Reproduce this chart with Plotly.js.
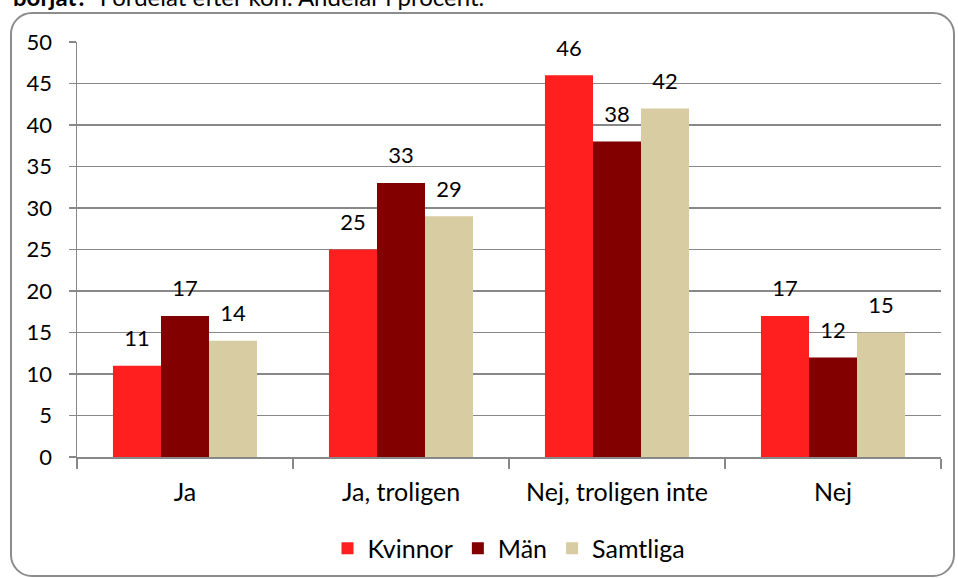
<!DOCTYPE html>
<html>
<head>
<meta charset="utf-8">
<script src="https://cdn.plot.ly/plotly-3.0.1.min.js"></script>
<style>
  html, body { margin:0; padding:0; background:#fff; }
  #wrap { position:relative; width:958px; height:578px; overflow:hidden; }
  #frame { position:absolute; left:10px; top:12px; width:945px; height:565px; border:2px solid #8c8c8c; border-radius:22px; box-sizing:border-box; }
  #chart { position:absolute; left:0; top:0; width:958px; height:578px; }
</style>
</head>
<body>
<div id="wrap">
  <div id="frame"></div>
  <div id="chart"></div>
</div>
<script>
const categories = ["Ja", "Ja, troligen", "Nej, troligen inte", "Nej"];
const seriesNames = ["Kvinnor", "Män", "Samtliga"];
const kvinnor = [11, 25, 46, 17];
const man = [17, 33, 38, 12];
const samtliga = [14, 29, 42, 15];
const yTicks = [0, 5, 10, 15, 20, 25, 30, 35, 40, 45, 50];
const colors = ["#FF1F1F", "#820000", "#D8CCA2"];
const fontFam = "Lato, Carlito, 'Liberation Sans', sans-serif";
const FS = 22;
const FS_TEXT = 25;

const values = [kvinnor, man, samtliga];
const barTraces = values.map((v, i) => ({
  type: "bar",
  name: seriesNames[i],
  x: categories,
  y: v,
  marker: { color: colors[i], line: { width: 0 } },
  hoverinfo: "skip"
}));
const labelTraces = values.map((v, i) => ({
  type: "scatter",
  mode: "markers+text",
  name: seriesNames[i] + " etikett",
  showlegend: false,
  x: categories,
  y: v,
  text: v.map(String),
  textposition: "top center",
  textfont: { family: fontFam, size: FS, color: "#000" },
  marker: { size: 21, color: "rgba(0,0,0,0)" },
  cliponaxis: false,
  hoverinfo: "skip"
}));

const layout = {
  width: 958, height: 578,
  margin: { l: 77, r: 17, t: 42, b: 121, autoexpand: false },
  paper_bgcolor: "rgba(0,0,0,0)",
  plot_bgcolor: "rgba(0,0,0,0)",
  font: { family: fontFam, size: FS, color: "#000" },
  barmode: "group",
  bargap: 0.333,
  bargroupgap: 0,
  scattermode: "group",
  scattergap: 0.333,
  showlegend: true,
  legend: {
    orientation: "h", x: 0.5, xanchor: "center", y: -0.165, yanchor: "top",
    font: { family: fontFam, size: FS_TEXT, color: "#000" },
    itemwidth: 30, traceorder: "normal"
  },
  xaxis: {
    type: "category",
    showline: true, linecolor: "#888", linewidth: 1.5,
    ticks: "outside", ticklen: 10, tickcolor: "#888", tickwidth: 1.5,
    tickson: "boundaries",
    ticklabelstandoff: 12,
    showgrid: false,
    tickfont: { family: fontFam, size: FS_TEXT },
    automargin: false
  },
  yaxis: {
    range: [0, 50],
    tickvals: yTicks,
    ticktext: yTicks.map(String),
    showline: true, linecolor: "#888", linewidth: 1.5,
    ticks: "outside", ticklen: 7, tickcolor: "#888", tickwidth: 1.5,
    ticklabelstandoff: 12,
    showgrid: true, gridcolor: "#888", gridwidth: 1.5,
    zeroline: false,
    tickfont: { family: fontFam, size: FS },
    automargin: false
  },
  annotations: [{
    xref: "paper", yref: "paper",
    x: (11 - 77) / 864, y: (457 - 13) / 415,
    xanchor: "left", yanchor: "bottom",
    showarrow: false,
    text: "<b>börjat?</b>  Fördelat efter kön. Andelar i procent.",
    font: { family: fontFam, size: 24, color: "#000" }
  }]
};

Plotly.newPlot("chart", barTraces.concat(labelTraces), layout, { staticPlot: true, displayModeBar: false });
</script>
</body>
</html>
